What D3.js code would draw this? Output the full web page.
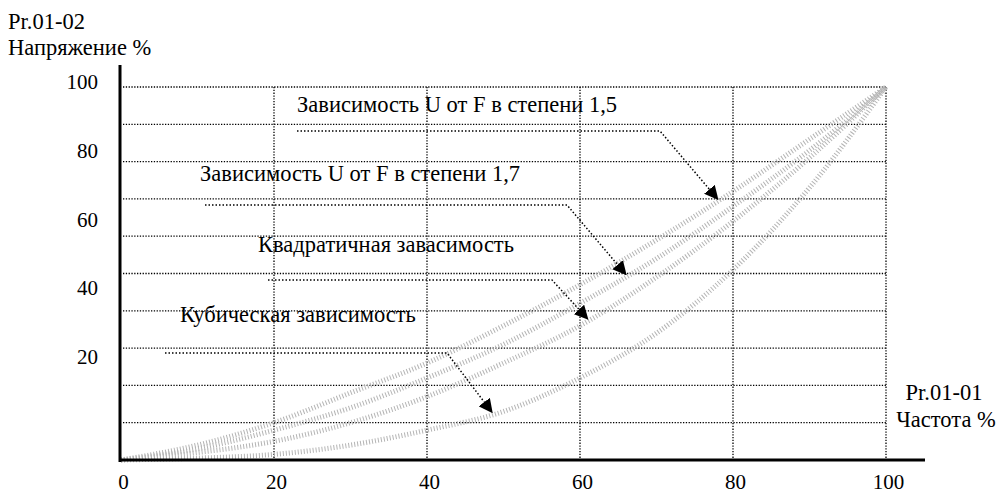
<!DOCTYPE html>
<html>
<head>
<meta charset="utf-8">
<script src="https://cdn.jsdelivr.net/npm/d3@7"></script>
<style>
  body { margin: 0; background: #fff; }
  svg text { font-family: "Liberation Serif", "Times New Roman", serif; font-size: 22.5px; fill: #000; }
</style>
</head>
<body>
<svg width="999" height="495"></svg>
<script>
// frequency points, %
var freq = [0, 10, 20, 30, 40, 50, 60, 70, 80, 90, 100];
// voltage, %
var curve15 = [0, 4, 10, 18, 26, 36, 47, 59, 72, 86, 100];
var curve17 = [0, 3, 8, 14, 22, 31, 42, 54, 68, 83, 100];
var curve2  = [0, 2, 5, 10, 17, 26, 36, 49, 64, 81, 100];
var curve3  = [0, 0.5, 1.5, 4, 8, 13, 22, 34, 51, 73, 100];

var xTicks = [0, 20, 40, 60, 80, 100];
var yTicks = [20, 40, 60, 80, 100];
var gridX = [20, 40, 60, 80, 100];
var gridY = [10, 20, 30, 40, 50, 60, 70, 80, 90, 100];

var labels = [
  "Зависимость U от F в степени 1,5",
  "Зависимость U от F в степени 1,7",
  "Квадратичная завасимость",
  "Кубическая зависимость"
];

var svg = d3.select("svg");

var x = d3.scaleLinear().domain([0, 100]).range([121, 886]);
var y = d3.scaleLinear().domain([0, 100]).range([460, 87]);
// tick labels in the original sit on their own spacing
var yLab = d3.scaleLinear().domain([20, 100]).range([357, 82]);

svg.append("defs").append("marker")
  .attr("id", "arrow")
  .attr("viewBox", "0 0 12 12")
  .attr("refX", 11)
  .attr("refY", 6)
  .attr("markerWidth", 14)
  .attr("markerHeight", 14)
  .attr("markerUnits", "userSpaceOnUse")
  .attr("orient", "auto")
  .append("path")
  .attr("d", "M0,0 L12,6 L0,12 Z")
  .attr("fill", "#000");

// grid
var grid = svg.append("g").attr("stroke", "#000").attr("stroke-width", 1.3)
  .attr("stroke-dasharray", "1.3,1.5");
grid.selectAll(".gh").data(gridY).join("line")
  .attr("x1", x(0) + 2).attr("x2", x(100))
  .attr("y1", d => y(d)).attr("y2", d => y(d));
grid.selectAll(".gv").data(gridX).join("line")
  .attr("x1", d => x(d)).attr("x2", d => x(d))
  .attr("y1", y(100)).attr("y2", y(0));

// curves
var line = d3.line()
  .x((d, i) => x(freq[i]))
  .y(d => y(d))
  .curve(d3.curveMonotoneX);

svg.append("g").selectAll("path")
  .data([curve15, curve17, curve2, curve3])
  .join("path")
  .attr("d", line)
  .attr("fill", "none")
  .attr("stroke", "#b4b4b4")
  .attr("stroke-width", 5)
  .attr("stroke-dasharray", "1,2");

// axes
svg.append("line")
  .attr("x1", x(0) - 1).attr("x2", x(0) - 1)
  .attr("y1", 65).attr("y2", y(0) + 2)
  .attr("stroke", "#000").attr("stroke-width", 3);
svg.append("line")
  .attr("x1", x(0) - 2).attr("x2", 925)
  .attr("y1", y(0)).attr("y2", y(0))
  .attr("stroke", "#000").attr("stroke-width", 3);

var xAxis = svg.append("g")
  .attr("transform", "translate(2,482)")
  .call(d3.axisBottom(x).tickValues(xTicks).tickSize(0).tickPadding(0));
xAxis.select(".domain").remove();
xAxis.selectAll("text").attr("dy", "0.32em")
  .style("font-family", "Liberation Serif").style("font-size", "21px");

var yAxis = svg.append("g")
  .attr("transform", "translate(98,0)")
  .call(d3.axisLeft(yLab).tickValues(yTicks).tickSize(0).tickPadding(0));
yAxis.select(".domain").remove();
yAxis.selectAll("text")
  .style("font-family", "Liberation Serif").style("font-size", "21px");

// axis titles
svg.append("text").attr("x", 8).attr("y", 29).text("Pr.01-02");
svg.append("text").attr("x", 8).attr("y", 55).text("Напряжение %");
svg.append("text").attr("x", 944).attr("y", 400).attr("text-anchor", "middle").text("Pr.01-01");
svg.append("text").attr("x", 946).attr("y", 427).attr("text-anchor", "middle").text("Частота %");

// annotations: text position, leader start, corner, arrow tip
var notes = [
  { text: labels[0], tx: 297, ty: 112, sx: 297, sy: 131, cx: 660, tipX: 78, curve: curve15 },
  { text: labels[1], tx: 200, ty: 181, sx: 205, sy: 205, cx: 567, tipX: 66, curve: curve17 },
  { text: labels[2], tx: 258, ty: 252, sx: 268, sy: 280, cx: 552, tipX: 61, curve: curve2 },
  { text: labels[3], tx: 180, ty: 322, sx: 165, sy: 353, cx: 447, tipX: 48.5, curve: curve3 }
];

// voltage on a curve at a given frequency
function valueAt(c, f) {
  var i = Math.min(Math.floor(f / 10), 9);
  var t = (f - freq[i]) / 10;
  return c[i] + (c[i + 1] - c[i]) * t;
}

var ann = svg.append("g");
notes.forEach(function(n) {
  ann.append("text").attr("x", n.tx).attr("y", n.ty).text(n.text);
  var tx = x(n.tipX), ty = y(valueAt(n.curve, n.tipX)) - 2;
  ann.append("path")
    .attr("d", "M" + n.sx + "," + n.sy + " L" + n.cx + "," + n.sy + " L" + tx + "," + ty)
    .attr("fill", "none")
    .attr("stroke", "#000")
    .attr("stroke-width", 1.5)
    .attr("stroke-dasharray", "1.5,2")
    .attr("marker-end", "url(#arrow)");
});
</script>
</body>
</html>
